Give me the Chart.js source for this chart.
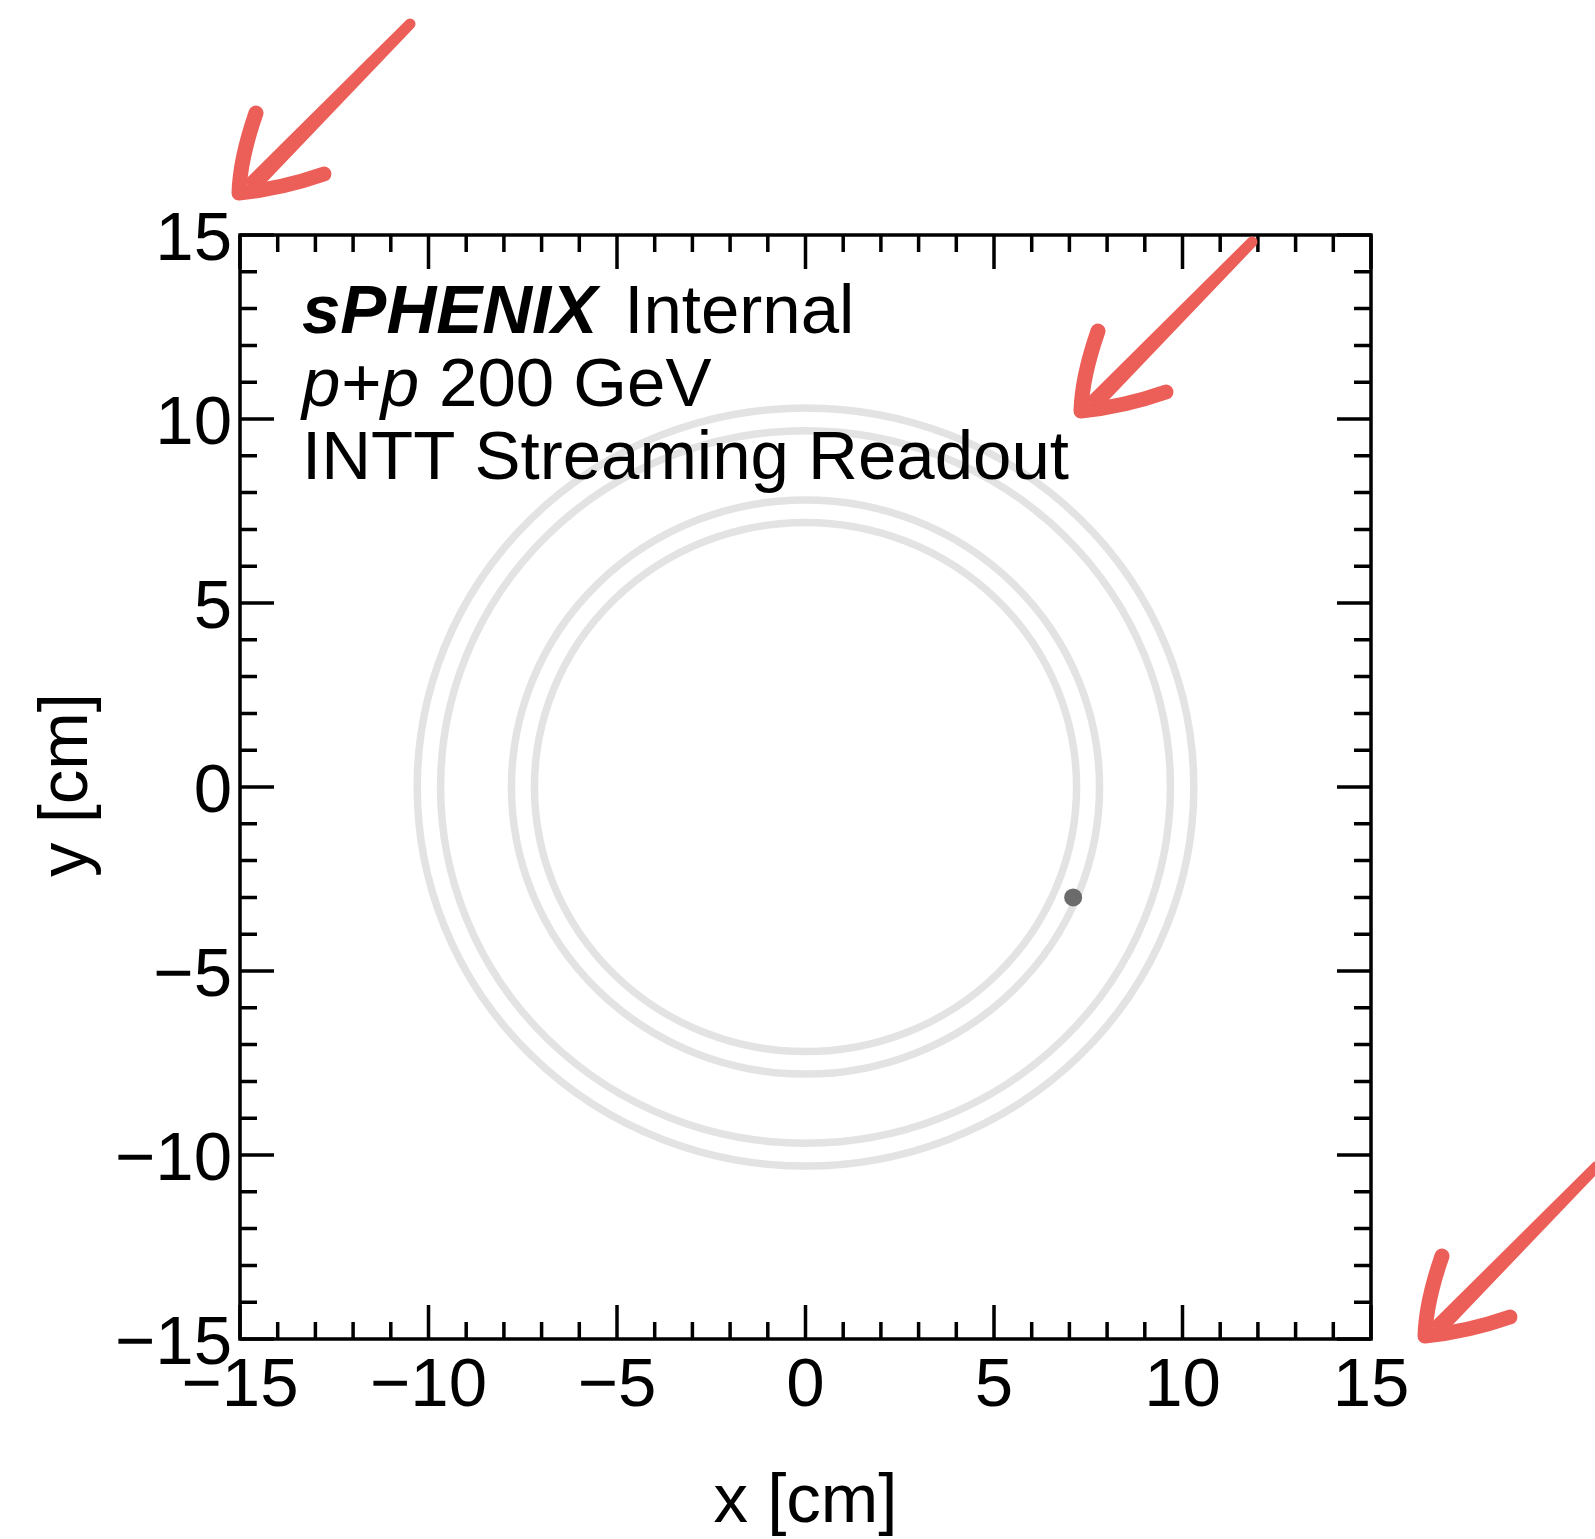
<!DOCTYPE html>
<html>
<head>
<meta charset="utf-8">
<script src="https://cdn.jsdelivr.net/npm/chart.js@4/dist/chart.umd.min.js"></script>
<style>
  html, body { margin: 0; padding: 0; background: #ffffff; }
  #c { display: block; }
</style>
</head>
<body>
<canvas id="c" width="1595" height="1539"></canvas>
<script>
// ---------------- data ----------------
const layerRadii = [7.19, 7.80, 9.68, 10.30];       // INTT layer radii [cm]
const hitX = [7.1];                                  // hit positions x [cm]
const hitY = [-3.0];                                 // hit positions y [cm]
const axisMin = -15, axisMax = 15;
const majorTicks = [-15, -10, -5, 0, 5, 10, 15];
const tickLabels = ['\u221215', '\u221210', '\u22125', '0', '5', '10', '15'];
const xTitle = 'x [cm]';
const yTitle = 'y [cm]';
const labelLines = ['sPHENIX', 'Internal', 'p+p', '200 GeV', 'INTT Streaming Readout'];

// ---------------- styling ----------------
const FONT = '"Liberation Sans", Arial, Helvetica, sans-serif';
const FS = 69;
const ARROW_COLOR = 'rgb(236, 95, 88)';

const framePlugin = {
  id: 'framePlugin',
  beforeDatasetsDraw(chart) {
    const ctx = chart.ctx;
    const xs = chart.scales.x, ys = chart.scales.y;
    const cx = xs.getPixelForValue(0), cy = ys.getPixelForValue(0);
    ctx.save();
    ctx.strokeStyle = '#e3e3e3';
    ctx.lineWidth = 7.5;
    layerRadii.forEach(r => {
      const rx = xs.getPixelForValue(r) - cx;
      const ry = cy - ys.getPixelForValue(r);
      ctx.beginPath();
      ctx.ellipse(cx, cy, rx, ry, 0, 0, Math.PI * 2);
      ctx.stroke();
    });
    ctx.restore();
  },
  afterDatasetsDraw(chart) {
    const ctx = chart.ctx;
    const a = chart.chartArea;
    const xs = chart.scales.x, ys = chart.scales.y;
    ctx.save();
    ctx.strokeStyle = '#000';
    ctx.lineWidth = 3.5;
    ctx.lineCap = 'butt';
    // ticks
    const MAJ = 34, MIN = 17;
    ctx.beginPath();
    xs.ticks.forEach(t => {
      const v = t.value;
      const len = majorTicks.includes(v) ? MAJ : MIN;
      const px = xs.getPixelForValue(v);
      ctx.moveTo(px, a.bottom); ctx.lineTo(px, a.bottom - len);
      ctx.moveTo(px, a.top); ctx.lineTo(px, a.top + len);
    });
    ys.ticks.forEach(t => {
      const v = t.value;
      const len = majorTicks.includes(v) ? MAJ : MIN;
      const py = ys.getPixelForValue(v);
      ctx.moveTo(a.left, py); ctx.lineTo(a.left + len, py);
      ctx.moveTo(a.right, py); ctx.lineTo(a.right - len, py);
    });
    ctx.stroke();
    // frame
    ctx.strokeRect(a.left, a.top, a.right - a.left, a.bottom - a.top);

    // tick labels
    ctx.fillStyle = '#000';
    ctx.font = FS + 'px ' + FONT;
    ctx.textBaseline = 'alphabetic';
    ctx.textAlign = 'center';
    majorTicks.forEach((v, i) => {
      ctx.fillText(tickLabels[i], xs.getPixelForValue(v), a.bottom + 67);
    });
    ctx.textAlign = 'right';
    majorTicks.forEach((v, i) => {
      ctx.fillText(tickLabels[i], a.left - 8, ys.getPixelForValue(v) + 25);
    });
    // axis titles
    ctx.textAlign = 'center';
    ctx.fillText(xTitle, (a.left + a.right) / 2, a.bottom + 183);
    ctx.save();
    ctx.translate(a.left - 153, (a.top + a.bottom) / 2 - 2);
    ctx.rotate(-Math.PI / 2);
    ctx.fillText(yTitle, 0, 0);
    ctx.restore();

    // annotation text
    ctx.textAlign = 'left';
    const tx = a.left + 62;
    let x = tx;
    ctx.font = 'italic bold ' + FS + 'px ' + FONT;
    ctx.fillText(labelLines[0], x, a.top + 98);
    x += ctx.measureText(labelLines[0]).width + 27;
    ctx.font = FS + 'px ' + FONT;
    ctx.fillText(labelLines[1], x, a.top + 98);
    x = tx;
    ctx.font = 'italic ' + FS + 'px ' + FONT;
    ctx.fillText(labelLines[2], x, a.top + 171);
    x += ctx.measureText(labelLines[2]).width + 20;
    ctx.font = FS + 'px ' + FONT;
    ctx.fillText(labelLines[3], x, a.top + 171);
    ctx.fillText(labelLines[4], tx, a.top + 244);
    ctx.restore();
  },
  afterDraw(chart) {
    const ctx = chart.ctx;
    // hand-drawn style red arrows (annotation overlay)
    const arrowTips = [[236, 199], [1078, 417], [1422, 1342]];
    ctx.save();
    ctx.strokeStyle = ARROW_COLOR;
    ctx.fillStyle = ARROW_COLOR;
    ctx.lineCap = 'round';
    ctx.lineJoin = 'round';
    arrowTips.forEach(([px, py]) => {
      // tapered shaft as filled polygon
      const sx0 = px + 14, sy0 = py - 12;   // lower end
      const sx1 = px + 174, sy1 = py - 175; // upper end
      const dx = sx1 - sx0, dy = sy1 - sy0;
      const L = Math.hypot(dx, dy);
      const nx = -dy / L, ny = dx / L;
      const w0 = 8.5, w1 = 5.5;
      ctx.beginPath();
      ctx.moveTo(sx0 + nx * w0, sy0 + ny * w0);
      ctx.lineTo(sx1 + nx * w1, sy1 + ny * w1);
      ctx.arc(sx1, sy1, w1, Math.atan2(ny, nx), Math.atan2(-ny, -nx), true);
      ctx.lineTo(sx0 - nx * w0, sy0 - ny * w0);
      ctx.closePath();
      ctx.fill();
      // head
      ctx.lineWidth = 15;
      ctx.beginPath();
      ctx.moveTo(px + 20, py - 86);
      ctx.quadraticCurveTo(px + 4, py - 40, px + 3, py - 6);
      ctx.quadraticCurveTo(px + 45, py - 10, px + 88, py - 25);
      ctx.stroke();
    });
    ctx.restore();
  }
};

const ctxEl = document.getElementById('c');
new Chart(ctxEl, {
  type: 'scatter',
  data: {
    datasets: [{
      label: 'hits',
      data: hitX.map((x, i) => ({ x: x, y: hitY[i] })),
      pointRadius: 9,
      pointHoverRadius: 9,
      pointBackgroundColor: '#6b6b6b',
      pointBorderColor: '#6b6b6b',
      pointBorderWidth: 0
    }]
  },
  options: {
    responsive: false,
    animation: false,
    devicePixelRatio: 1,
    layout: { padding: { left: 0, top: 235, right: 224, bottom: 0 } },
    plugins: { legend: { display: false }, tooltip: { enabled: false } },
    events: [],
    scales: {
      x: {
        type: 'linear', min: axisMin, max: axisMax,
        ticks: { display: false, stepSize: 1 },
        grid: { display: false },
        border: { display: false },
        afterFit(s) { s.height = 200; }
      },
      y: {
        type: 'linear', min: axisMin, max: axisMax,
        ticks: { display: false, stepSize: 1 },
        grid: { display: false },
        border: { display: false },
        afterFit(s) { s.width = 240; }
      }
    }
  },
  plugins: [framePlugin]
});
</script>
</body>
</html>
